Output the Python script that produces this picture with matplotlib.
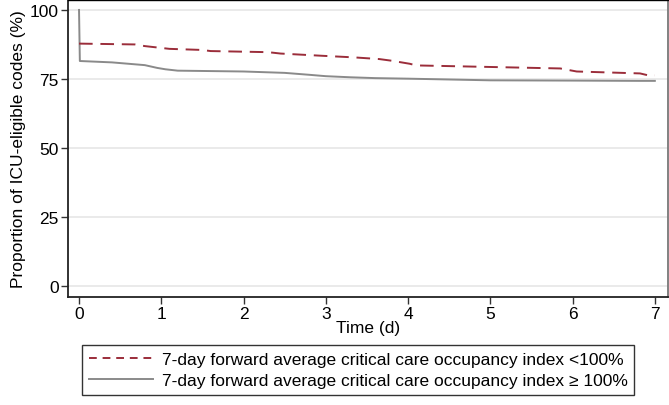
import matplotlib.pyplot as plt
from matplotlib.lines import Line2D

plt.rcParams['font.family'] = ['Liberation Sans', 'DejaVu Sans']

# ICU-eligible codes over time (Kaplan-Meier style curves)
t_low = [0, 0.68, 0.8, 0.95, 1.1, 1.5, 1.6, 2.3, 2.45, 2.95, 3.35, 3.65, 3.8,
         4.02, 4.1, 4.9, 5.85, 6.05, 6.82, 6.92, 7.0]
v_low = [87.8, 87.5, 86.9, 86.4, 85.9, 85.5, 85.1, 84.7, 84.2, 83.4, 82.8, 82.2,
         81.6, 80.5, 79.9, 79.4, 78.8, 77.7, 77.0, 76.3, 76.3]

t_high = [0, 0.01, 0.4, 0.8, 0.95, 1.05, 1.2, 2.0, 2.5, 2.8, 3.0, 3.3, 3.6,
          4.0, 4.5, 5.0, 6.0, 6.8, 7.0]
v_high = [100, 81.5, 81.0, 80.0, 79.0, 78.5, 78.0, 77.7, 77.2, 76.5, 76.0, 75.6,
          75.3, 75.1, 74.8, 74.5, 74.4, 74.3, 74.3]

x_ticks = [0, 1, 2, 3, 4, 5, 6, 7]
y_ticks = [0, 25, 50, 75, 100]

label_low = '7-day forward average critical care occupancy index <100%'
label_high = '7-day forward average critical care occupancy index \u2265 100%'

red = '#9b2d3a'
grey = '#8a8a8a'
fs = 12.5

fig = plt.figure(figsize=(6.69, 4.06), dpi=100)
ax = fig.add_axes([68 / 669, 1 - 298 / 406, 600 / 669, 297 / 406])

for y in y_ticks:
    ax.axhline(y, color='#e6e6e6', lw=1.2, zorder=0)

ax.plot(t_high, v_high, color=grey, lw=1.4, zorder=2)
ax.plot(t_low, v_low, color=red, lw=1.4, dashes=(7, 4), zorder=3)

ax.set_xlim(-0.134, 7.16)
ax.set_ylim(-4, 103.6)
ax.set_xticks(x_ticks)
ax.set_yticks(y_ticks)
ax.tick_params(direction='out', length=5, width=1, colors='#333333',
               labelsize=fs, labelcolor='black', pad=1.5)
ax.set_xlabel('Time (d)', fontsize=fs, labelpad=-1)
ax.set_ylabel('Proportion of ICU-eligible codes (%)', fontsize=fs, labelpad=3)

ax.spines['left'].set_linewidth(1.3)
ax.spines['bottom'].set_linewidth(1.3)
ax.spines['left'].set_color('#222222')
ax.spines['bottom'].set_color('#222222')
ax.spines['top'].set_linewidth(1)
ax.spines['top'].set_color('black')
ax.spines['right'].set_linewidth(1.3)
ax.spines['right'].set_color('#777777')

handles = [Line2D([], [], color=red, lw=1.4, dashes=(4, 3)),
           Line2D([], [], color=grey, lw=1.4)]
leg = fig.legend(handles, [label_low, label_high], loc='center',
                 bbox_to_anchor=(358 / 669, 1 - 371 / 406), fontsize=fs,
                 frameon=True, fancybox=False, edgecolor='black',
                 handlelength=3.7, handletextpad=0.5, borderpad=0.4,
                 labelspacing=0.35)
leg.get_frame().set_linewidth(1)

fig.savefig('out.png', dpi=100)
